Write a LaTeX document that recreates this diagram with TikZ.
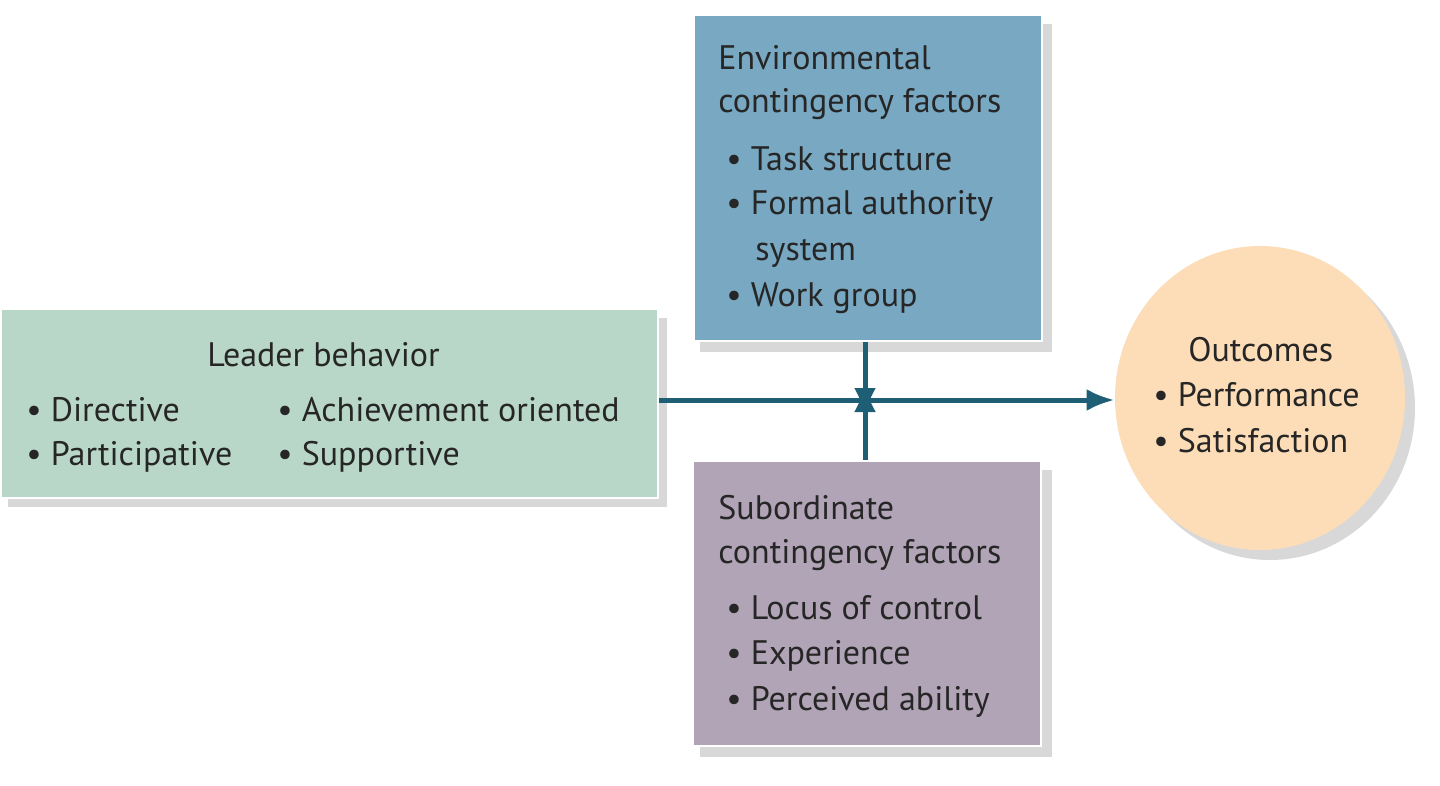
\documentclass[tikz,border=0pt]{standalone}
\usepackage{fontspec}
\setmainfont{PT Sans}
\usetikzlibrary{arrows.meta,shapes.geometric}
\definecolor{envc}{HTML}{78A8C2}
\definecolor{leadc}{HTML}{B9D7C9}
\definecolor{subc}{HTML}{B0A4B6}
\definecolor{outc}{HTML}{FDDDB8}
\definecolor{linec}{HTML}{1F5F75}
\definecolor{shad}{HTML}{D8D8D8}
\begin{document}
\begin{tikzpicture}[x=0.5pt,y=-0.5pt,
  txt/.style={font=\fontsize{17}{21}\selectfont, anchor=west, inner sep=0pt, text=black!85},
  box/.style={draw=white, line width=1pt},
  arr/.style={draw=linec, line width=2.5pt, -{Latex[length=14pt,width=11pt]}}]
\useasboundingbox (0,0) rectangle (1440,786);
% shadows
\fill[shad] (700,24) rectangle (1052,352);
\fill[shad] (8,318) rectangle (667,507);
\fill[shad] (700,470) rectangle (1052,757);
\fill[shad] (1270,408) ellipse [x radius=145, y radius=152];
% shapes
\node[box, fill=envc, minimum width=174pt, minimum height=163pt, anchor=north west, inner sep=0pt] (env) at (693,14) {};
\node[box, fill=leadc, minimum width=328.5pt, minimum height=94.5pt, anchor=north west, inner sep=0pt] (lead) at (0,308) {};
\node[box, fill=subc, minimum width=174pt, minimum height=142.5pt, anchor=north west, inner sep=0pt] (sub) at (692,460) {};
\node[draw=none, fill=outc, ellipse, minimum width=145pt, minimum height=152pt, inner sep=0pt] (out) at (1260,398) {};
% connectors
\coordinate (j) at (865,400);
\draw[arr] (lead.east|-j) -- (out.west|-j);
\draw[arr] (env.south-|j) -- ([yshift=-8pt]j);
\draw[arr] (sub.north-|j) -- ([yshift=8pt]j);
% texts
\node[txt] (e1) at (718,58) {Environmental};
\node[txt] (e2) at (718,104) {contingency factors};
\node[txt] (e3) at (726,159) {• Task structure};
\node[txt] (e4) at (726,206) {• Formal authority};
\node[txt] (e5) at (755,253) {system};
\node[txt] (e6) at (726,298) {• Work group};
\node[txt] (l1) at (207,355) {Leader behavior};
\node[txt] (l2) at (26,410) {• Directive};
\node[txt] (l3) at (26,457) {• Participative};
\node[txt] (l4) at (277,410) {• Achievement oriented};
\node[txt] (l5) at (277,457) {• Supportive};
\node[txt] (s1) at (718,508) {Subordinate};
\node[txt] (s2) at (718,555) {contingency factors};
\node[txt] (s3) at (726,608) {• Locus of control};
\node[txt] (s4) at (726,656) {• Experience};
\node[txt] (s5) at (726,702) {• Perceived ability};
\node[txt] (o1) at (1188,350) {Outcomes};
\node[txt] (o2) at (1153,395) {• Performance};
\node[txt] (o3) at (1153,441) {• Satisfaction};
\end{tikzpicture}
\end{document}
